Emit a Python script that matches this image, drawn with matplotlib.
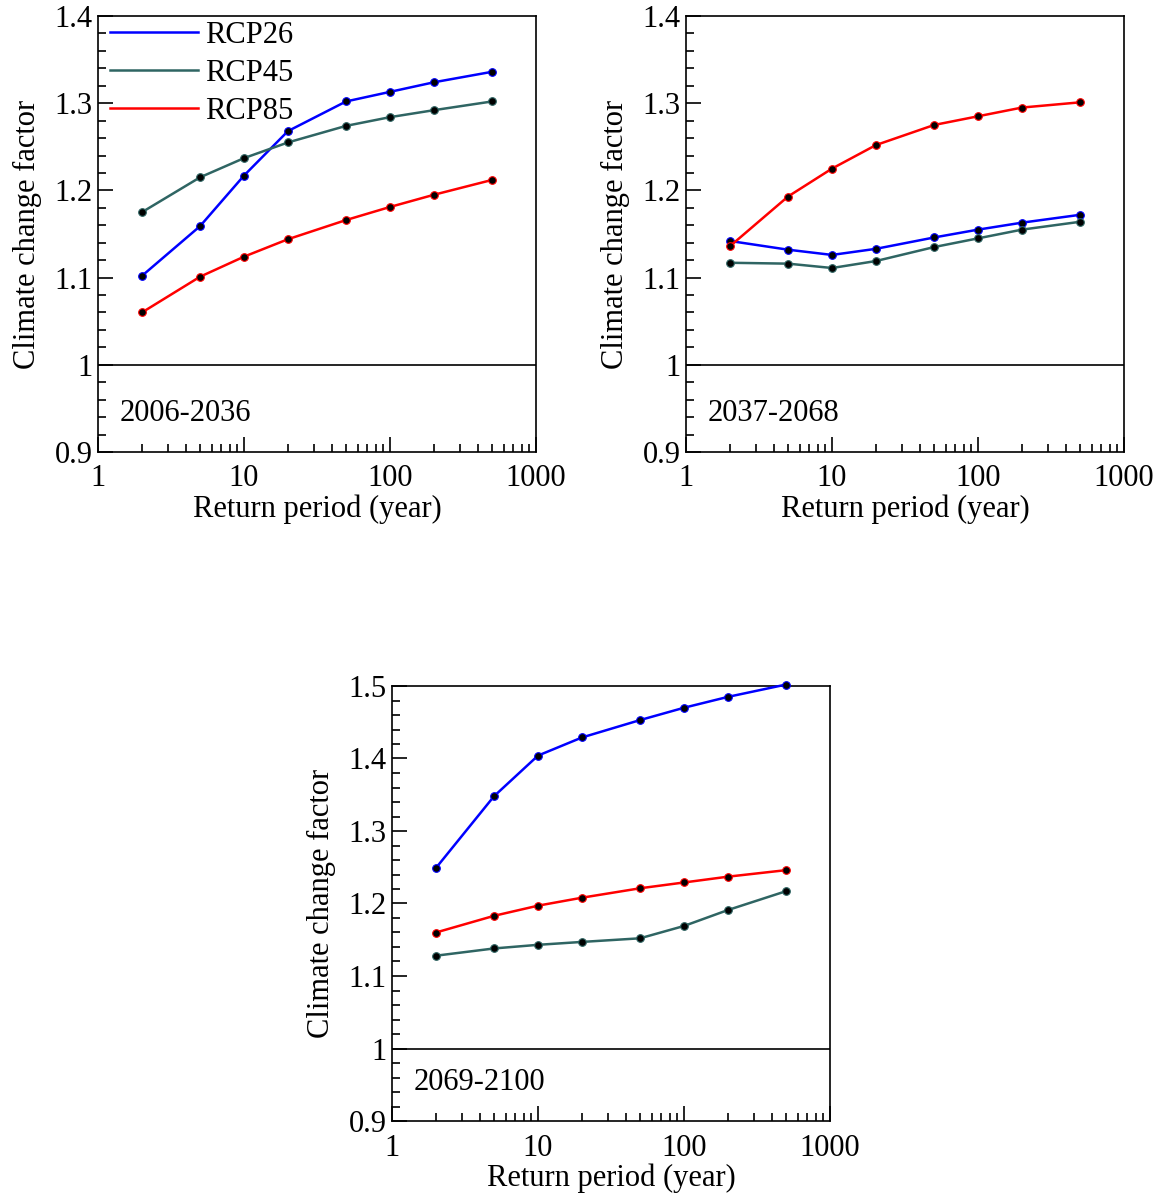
import matplotlib
matplotlib.use('Agg')
import matplotlib.pyplot as plt
from matplotlib.lines import Line2D
from matplotlib.ticker import FixedLocator, MultipleLocator, NullFormatter, FuncFormatter

plt.rcParams['font.family'] = ['Liberation Serif', 'DejaVu Serif']
plt.rcParams['font.size'] = 22

# return periods (years)
periods = [2, 5, 10, 20, 50, 100, 200, 500]

# 2006-2036
p1_rcp26 = [1.102, 1.159, 1.217, 1.268, 1.302, 1.313, 1.324, 1.336]
p1_rcp45 = [1.175, 1.215, 1.237, 1.255, 1.274, 1.284, 1.292, 1.302]
p1_rcp85 = [1.060, 1.101, 1.124, 1.144, 1.166, 1.181, 1.195, 1.212]

# 2037-2068
p2_rcp26 = [1.142, 1.132, 1.126, 1.133, 1.146, 1.155, 1.163, 1.172]
p2_rcp45 = [1.117, 1.116, 1.111, 1.119, 1.135, 1.145, 1.155, 1.164]
p2_rcp85 = [1.136, 1.193, 1.225, 1.252, 1.275, 1.285, 1.295, 1.301]

# 2069-2100
p3_rcp26 = [1.249, 1.348, 1.404, 1.429, 1.453, 1.470, 1.485, 1.502]
p3_rcp45 = [1.128, 1.138, 1.143, 1.147, 1.152, 1.169, 1.191, 1.217]
p3_rcp85 = [1.160, 1.183, 1.197, 1.208, 1.221, 1.229, 1.237, 1.246]

scenarios = ['RCP26', 'RCP45', 'RCP85']
colors = ['#0000ff', '#2f6563', '#ff0000']

panels = [
    ('2006-2036', [p1_rcp26, p1_rcp45, p1_rcp85], (1.4, 0.9)),
    ('2037-2068', [p2_rcp26, p2_rcp45, p2_rcp85], (1.4, 0.9)),
    ('2069-2100', [p3_rcp26, p3_rcp45, p3_rcp85], (1.5, 0.9)),
]

W, H = 1165, 1198
fig = plt.figure(figsize=(W / 100, H / 100), dpi=100)

# axes boxes in pixels: left, top, right, bottom
boxes = [(98, 16, 536, 452), (686, 16, 1124, 452), (392, 686, 830, 1121)]


def fmt_x(v, pos):
    return '%d' % round(v)


def fmt_y(v, pos):
    s = '%.1f' % v
    if s.endswith('.0'):
        s = s[:-2]
    return s


axes = []
for (period, series, (ytop, ybot)), (l, t, r, b) in zip(panels, boxes):
    ax = fig.add_axes([l / W, 1 - b / H, (r - l) / W, (b - t) / H])
    for vals, c in zip(series, colors):
        ax.plot(periods, vals, '-', color=c, lw=1.8, marker='o', ms=5.5,
                mfc='black', mec=c, mew=0.8, zorder=3, clip_on=False)
    ax.axhline(1.0, color='black', lw=1.2, zorder=2)
    ax.set_xscale('log')
    ax.set_xlim(1, 1000)
    ax.set_ylim(ybot, ytop)
    ax.xaxis.set_major_locator(FixedLocator([1, 10, 100, 1000]))
    minors = [m * d for d in (1, 10, 100) for m in range(2, 10)]
    ax.xaxis.set_minor_locator(FixedLocator(minors))
    ax.xaxis.set_major_formatter(FuncFormatter(fmt_x))
    ax.xaxis.set_minor_formatter(NullFormatter())
    ax.yaxis.set_major_locator(MultipleLocator(0.1))
    ax.yaxis.set_minor_locator(MultipleLocator(0.02))
    ax.yaxis.set_major_formatter(FuncFormatter(fmt_y))
    ax.tick_params(which='both', direction='in', top=False, right=False,
                   width=1.2, labelsize=22)
    ax.tick_params(which='major', length=11)
    ax.tick_params(which='minor', length=6)
    ax.tick_params(axis='x', which='major', pad=9)
    ax.tick_params(axis='y', which='major', pad=4)
    for sp in ax.spines.values():
        sp.set_linewidth(1.2)
    ax.set_xlabel('Return period (year)', fontsize=22, labelpad=1)
    ax.set_ylabel('Climate change factor', fontsize=22, labelpad=9)
    ax.text(0.05, 0.088, period, transform=ax.transAxes, fontsize=22,
            va='center', ha='left')
    axes.append(ax)

handles = [Line2D([], [], color=c, lw=1.8) for c in colors]
axes[0].legend(handles, scenarios, loc='upper left', frameon=False,
               bbox_to_anchor=(0.018, 1.0), handlelength=2.85, handletextpad=0.23,
               labelspacing=0.3, borderaxespad=0.05, borderpad=0.1, fontsize=22)

fig.savefig('out.png', dpi=100)
